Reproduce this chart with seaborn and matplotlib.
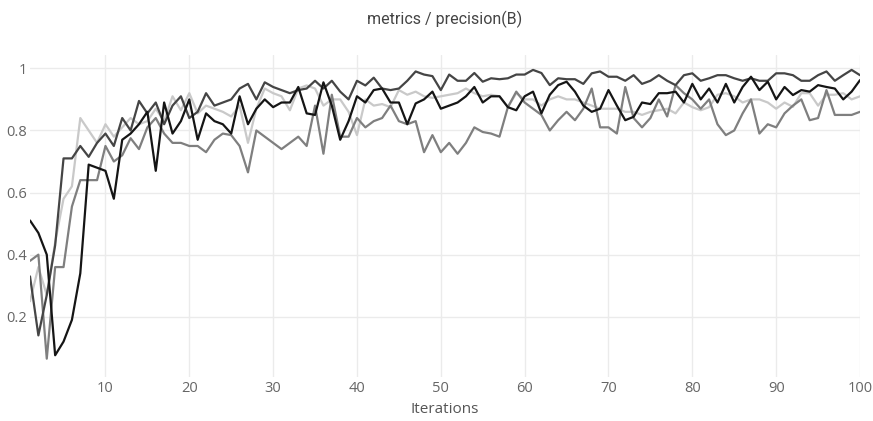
import matplotlib.pyplot as plt
import seaborn as sns
import numpy as np
import pandas as pd

# iterations 1..100
iterations = list(range(1, 101))

# four runs (10 values per row)
run_black = [
    0.51, 0.47, 0.40, 0.076, 0.12, 0.19, 0.34, 0.69, 0.68, 0.67,
    0.58, 0.77, 0.79, 0.82, 0.86, 0.67, 0.89, 0.79, 0.83, 0.90,
    0.77, 0.855, 0.83, 0.82, 0.79, 0.91, 0.82, 0.87, 0.90, 0.875,
    0.89, 0.89, 0.94, 0.855, 0.85, 0.955, 0.88, 0.77, 0.83, 0.91,
    0.89, 0.93, 0.935, 0.89, 0.89, 0.82, 0.887, 0.90, 0.925, 0.87,
    0.88, 0.89, 0.91, 0.94, 0.89, 0.91, 0.91, 0.875, 0.865, 0.91,
    0.925, 0.855, 0.915, 0.946, 0.957, 0.925, 0.88, 0.86, 0.87, 0.93,
    0.88, 0.833, 0.844, 0.89, 0.885, 0.92, 0.92, 0.925, 0.89, 0.95,
    0.90, 0.935, 0.89, 0.95, 0.89, 0.94, 0.973, 0.93, 0.957, 0.90,
    0.94, 0.914, 0.93, 0.925, 0.946, 0.94, 0.935, 0.90, 0.925, 0.962,
]
run_dark = [
    0.33, 0.14, 0.27, 0.43, 0.71, 0.71, 0.75, 0.715, 0.76, 0.79,
    0.75, 0.84, 0.80, 0.895, 0.855, 0.89, 0.82, 0.88, 0.91, 0.84,
    0.86, 0.92, 0.88, 0.89, 0.90, 0.935, 0.95, 0.90, 0.955, 0.94,
    0.93, 0.92, 0.93, 0.935, 0.96, 0.935, 0.96, 0.925, 0.90, 0.96,
    0.945, 0.97, 0.935, 0.93, 0.935, 0.96, 0.99, 0.98, 0.975, 0.93,
    0.98, 0.96, 0.96, 0.985, 0.957, 0.968, 0.965, 0.968, 0.98, 0.98,
    0.995, 0.985, 0.946, 0.968, 0.965, 0.965, 0.95, 0.984, 0.99, 0.973,
    0.973, 0.96, 0.978, 0.95, 0.96, 0.978, 0.96, 0.946, 0.978, 0.984,
    0.96, 0.968, 0.978, 0.978, 0.968, 0.96, 0.968, 0.96, 0.96, 0.984,
    0.984, 0.978, 0.96, 0.96, 0.978, 0.99, 0.96, 0.978, 0.995, 0.978,
]
run_mid = [
    0.38, 0.40, 0.065, 0.36, 0.36, 0.555, 0.64, 0.64, 0.64, 0.75,
    0.70, 0.72, 0.775, 0.74, 0.81, 0.84, 0.79, 0.76, 0.76, 0.75,
    0.75, 0.73, 0.77, 0.79, 0.785, 0.75, 0.665, 0.80, 0.78, 0.76,
    0.74, 0.76, 0.78, 0.75, 0.88, 0.725, 0.915, 0.78, 0.78, 0.84,
    0.81, 0.83, 0.84, 0.88, 0.83, 0.82, 0.83, 0.73, 0.785, 0.73,
    0.76, 0.725, 0.76, 0.81, 0.795, 0.79, 0.78, 0.875, 0.925, 0.89,
    0.87, 0.85, 0.80, 0.833, 0.86, 0.833, 0.87, 0.935, 0.81, 0.81,
    0.79, 0.94, 0.84, 0.81, 0.84, 0.90, 0.845, 0.946, 0.92, 0.90,
    0.87, 0.90, 0.82, 0.785, 0.80, 0.855, 0.90, 0.79, 0.82, 0.81,
    0.855, 0.88, 0.90, 0.833, 0.84, 0.93, 0.85, 0.85, 0.85, 0.86,
]
run_light = [
    0.25, 0.36, 0.27, 0.44, 0.58, 0.62, 0.84, 0.80, 0.76, 0.82,
    0.78, 0.81, 0.84, 0.82, 0.83, 0.87, 0.83, 0.91, 0.865, 0.92,
    0.855, 0.88, 0.87, 0.86, 0.845, 0.88, 0.76, 0.87, 0.935, 0.92,
    0.91, 0.865, 0.935, 0.945, 0.935, 0.88, 0.90, 0.90, 0.86, 0.785,
    0.90, 0.88, 0.885, 0.875, 0.93, 0.915, 0.925, 0.91, 0.905, 0.91,
    0.915, 0.92, 0.935, 0.92, 0.91, 0.915, 0.91, 0.875, 0.92, 0.90,
    0.90, 0.88, 0.90, 0.91, 0.90, 0.90, 0.89, 0.88, 0.87, 0.87,
    0.87, 0.86, 0.86, 0.85, 0.86, 0.865, 0.87, 0.855, 0.89, 0.875,
    0.865, 0.875, 0.915, 0.92, 0.91, 0.89, 0.90, 0.90, 0.89, 0.87,
    0.89, 0.876, 0.92, 0.92, 0.88, 0.915, 0.915, 0.92, 0.90, 0.91,
]

runs = {"light": run_light, "mid": run_mid, "dark": run_dark, "black": run_black}
run_colors = {"light": "#c9c9c9", "mid": "#7f7f7f", "dark": "#454545", "black": "#151515"}

y_ticks = [0.2, 0.4, 0.6, 0.8, 1.0]
y_tick_labels = ["0.2", "0.4", "0.6", "0.8", "1"]
x_ticks = [10, 20, 30, 40, 50, 60, 70, 80, 90, 100]

df = pd.concat(
    [pd.DataFrame({"Iterations": iterations, "value": v, "run": k}) for k, v in runs.items()],
    ignore_index=True,
)

sns.set_theme(style="whitegrid")
plt.rcParams["font.family"] = ["Open Sans", "DejaVu Sans"]

fig = plt.figure(figsize=(8.73, 4.21), dpi=100)
ax = fig.add_axes([30 / 873, 1 - 377 / 421, 830 / 873, 322 / 421])

sns.lineplot(data=df, x="Iterations", y="value", hue="run", palette=run_colors,
             linewidth=1.6, legend=False, ax=ax)

ax.set_xlim(1, 100)
ax.set_ylim(0.006, 1.043)
ax.set_xticks(x_ticks)
ax.set_yticks(y_ticks)
ax.set_yticklabels(y_tick_labels)
ax.grid(True, color="#ebebeb", linewidth=1.0)
for s in ax.spines.values():
    s.set_visible(False)
ax.tick_params(axis="both", length=0, labelsize=10.5, colors="#666666")
ax.tick_params(axis="y", pad=2)
ax.tick_params(axis="x", pad=3)

ax.set_xlabel("Iterations", fontsize=11, color="#555555", labelpad=4)
ax.set_ylabel("")
fig.text(445 / 873, 1 - 19 / 421, "metrics / precision(B)", ha="center", va="center",
         fontsize=11.5, color="#444444", family=["Roboto", "DejaVu Sans"])

fig.savefig("out.png", dpi=100)
